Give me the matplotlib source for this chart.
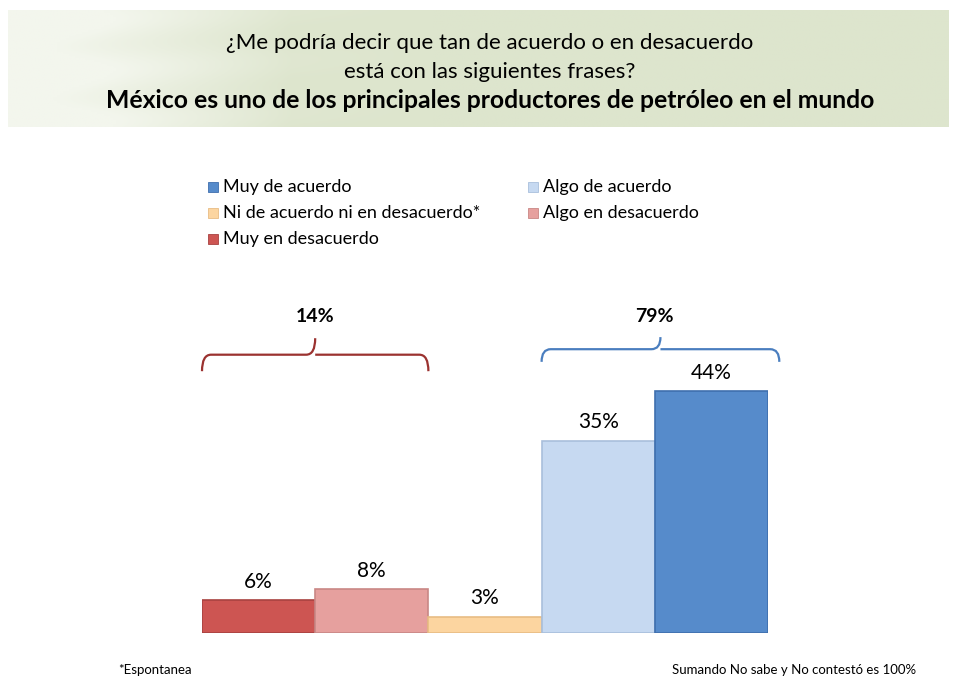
import numpy as np
import matplotlib.pyplot as plt
from matplotlib.path import Path
from matplotlib.patches import PathPatch, Rectangle

plt.rcParams['font.family'] = ['Lato', 'DejaVu Sans']

# data
categories = ['Muy en desacuerdo', 'Algo en desacuerdo',
              'Ni de acuerdo ni en desacuerdo*', 'Algo de acuerdo', 'Muy de acuerdo']
values = [6, 8, 3, 35, 44]
colors = ['#cd5552', '#e6a09e', '#fcd5a0', '#c6d9f1', '#568bcb']
edges = ['#a84240', '#c98785', '#e8bc84', '#a9bfdc', '#3f6fae']
group_labels = ['14%', '79%']
legend_order = [4, 3, 2, 1, 0]

fig = plt.figure(figsize=(9.55, 6.81), dpi=100)

# header band with gradient
hdr = fig.add_axes([8 / 955, 1 - 127 / 681, 940 / 955, 117 / 681])
gx = np.linspace(0, 1, 300)
gy = np.linspace(0, 1, 60)
X, Y = np.meshgrid(gx, gy)
left_col = np.array([243, 246, 237]) / 255
right_col = np.array([221, 229, 205]) / 255
t = np.clip((X - 0.05) / 0.25, 0, 1)
streak = 0.35 * np.clip(1 - X / 0.45, 0, 1) * (0.5 + 0.5 * np.sin(Y * 14 + X * 6))
t = np.clip(t - streak, 0, 1)
img = left_col[None, None, :] * (1 - t[..., None]) + right_col[None, None, :] * t[..., None]
hdr.imshow(img, aspect='auto', extent=[0, 1, 0, 1])
hdr.set_axis_off()

cx = 490 / 955
fig.text(cx, 1 - 43 / 681, '¿Me podría decir que tan de acuerdo o en desacuerdo',
         ha='center', va='center', fontsize=16)
fig.text(cx, 1 - 72 / 681, 'está con las siguientes frases?',
         ha='center', va='center', fontsize=16)
fig.text(cx, 1 - 100 / 681, 'México es uno de los principales productores de petróleo en el mundo',
         ha='center', va='center', fontsize=17.8, fontweight='bold')

# legend (manual, two columns)
leg_pos = [(208, 187), (528, 187), (208, 213), (528, 213), (208, 239)]
for (px, py), idx in zip(leg_pos, legend_order):
    fig.patches.append(Rectangle((px / 955, 1 - (py + 5) / 681), 10 / 955, 10 / 681,
                                 transform=fig.transFigure, facecolor=colors[idx],
                                 edgecolor=edges[idx], lw=0.6))
    fig.text((px + 15) / 955, 1 - py / 681, categories[idx], ha='left', va='center',
             fontsize=13)

# bars
ax = fig.add_axes([202 / 955, 48 / 681, 566 / 955, 330 / 681])
x = np.arange(len(values))
ax.bar(x, values, width=1.0, color=colors, edgecolor=edges, linewidth=1.2)
for xi, v in zip(x, values):
    ax.annotate(f'{v}%', (xi, v), xytext=(0, 6), textcoords='offset points',
                ha='center', va='bottom', fontsize=15)
ax.set_xlim(-0.5, 4.5)
ax.set_ylim(0, 60)
ax.set_axis_off()


def brace(ax, x0, x1, y_end, y_mid, y_tip, color):
    xm = (x0 + x1) / 2
    r = 0.08
    verts = [(x0, y_end), (x0, y_mid), (x0 + r, y_mid),
             (xm - r, y_mid), (xm, y_mid), (xm, y_tip),
             (xm, y_mid), (xm + r, y_mid),
             (x1 - r, y_mid), (x1, y_mid), (x1, y_end)]
    codes = [Path.MOVETO, Path.CURVE3, Path.CURVE3,
             Path.LINETO, Path.CURVE3, Path.CURVE3,
             Path.MOVETO, Path.LINETO,
             Path.LINETO, Path.CURVE3, Path.CURVE3]
    ax.add_patch(PathPatch(Path(verts, codes), fill=False, edgecolor=color, lw=1.6,
                           clip_on=False))


brace(ax, -0.5, 1.5, 47.6, 50.6, 53.6, '#9b3230')
brace(ax, 2.5, 4.6, 49.3, 51.6, 53.8, '#4a7ebf')
ax.text(0.5, 57.5, group_labels[0], ha='center', va='center', fontsize=14,
        fontweight='bold')
ax.text(3.5, 57.5, group_labels[1], ha='center', va='center', fontsize=14,
        fontweight='bold')

fig.text(118 / 955, 1 - 670 / 681, '*Espontanea', ha='left', va='center', fontsize=9.5)
fig.text(916 / 955, 1 - 670 / 681, 'Sumando No sabe y No contestó es 100%',
         ha='right', va='center', fontsize=9.5)

fig.savefig('out.png', dpi=100)
